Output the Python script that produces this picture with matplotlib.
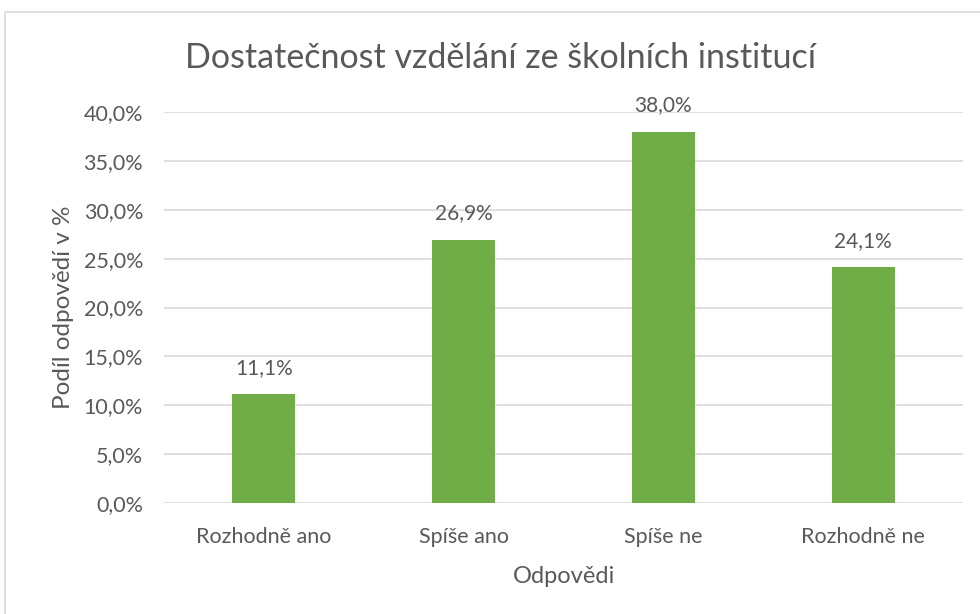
import matplotlib.pyplot as plt
from matplotlib.patches import Rectangle
import numpy as np

categories = ['Rozhodně ano', 'Spíše ano', 'Spíše ne', 'Rozhodně ne']
values = [11.1, 26.9, 38.0, 24.1]
yticks = [0, 5, 10, 15, 20, 25, 30, 35, 40]

plt.rcParams['font.family'] = ['Lato', 'DejaVu Sans']
txt = '#595959'

fig = plt.figure(figsize=(9.8, 6.14), dpi=100)
ax = fig.add_axes([164 / 980, 111 / 614, 799 / 980, 391 / 614])

# chart frame like the Excel chart area
fig.patches.append(Rectangle((5 / 980, -0.01), 1.0, (614 - 12) / 614 + 0.01,
                             transform=fig.transFigure, fill=False,
                             edgecolor='#D9D9D9', linewidth=1.2))

x = np.arange(len(categories))
ax.bar(x, values, width=0.315, color='#70AD47', zorder=3)
for xi, v in zip(x, values):
    ax.text(xi, v + 1.7, f'{v:.1f}%'.replace('.', ','), ha='center', va='bottom',
            fontsize=15, color=txt)

ax.set_xlim(-0.5, len(categories) - 0.5)
ax.set_ylim(0, 40)
ax.set_yticks(yticks)
ax.set_yticklabels([f'{t:.1f}%'.replace('.', ',') for t in yticks])
ax.set_xticks(x)
ax.set_xticklabels(categories)
ax.tick_params(axis='both', length=0, labelsize=15.5, colors=txt)
ax.tick_params(axis='x', pad=17)
ax.tick_params(axis='y', pad=15)
ax.grid(axis='y', color='#D9D9D9', linewidth=1.2, zorder=0)
for s in ax.spines.values():
    s.set_visible(False)

ax.set_xlabel('Odpovědi', fontsize=17, color=txt, labelpad=14)
ax.set_ylabel('Podíl odpovědí v %', fontsize=17.5, color=txt, labelpad=7)
fig.text(500 / 980, 1 - 58 / 614, 'Dostatečnost vzdělání ze školních institucí',
         ha='center', va='center', fontsize=24.5, color=txt)

fig.savefig('out.png', dpi=100)
